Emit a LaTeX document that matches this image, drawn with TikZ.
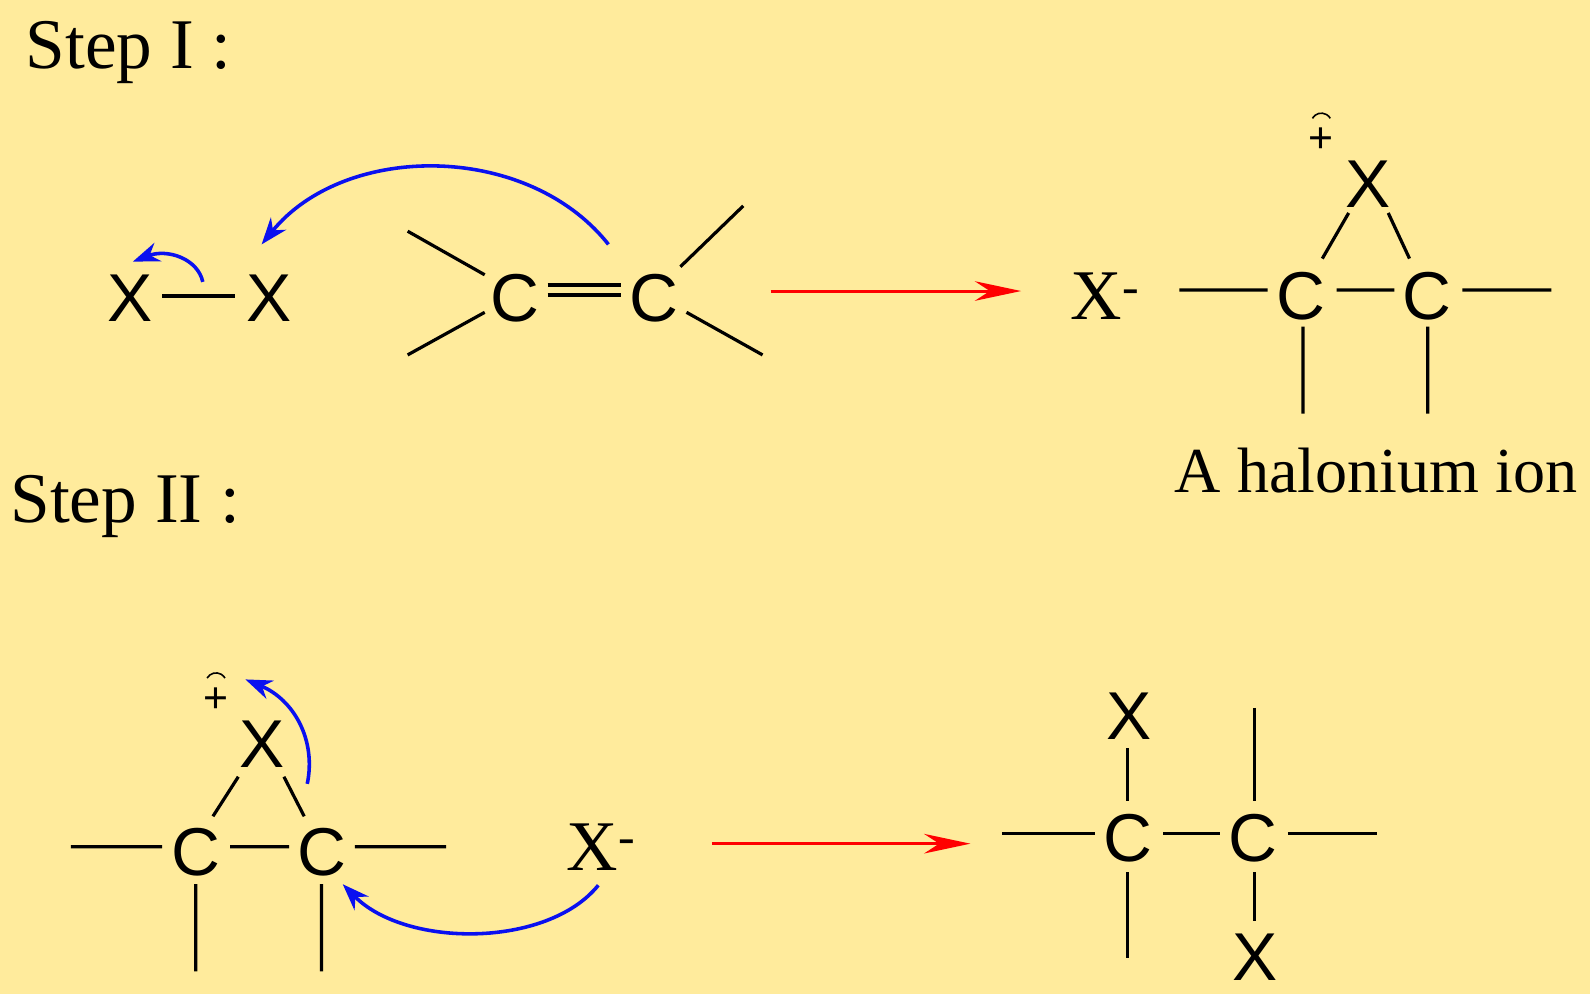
\documentclass[tikz,border=0pt]{standalone}
\usepackage{fontspec}
\setmainfont{Liberation Serif}
\newfontfamily\atomfont{Liberation Sans}
\usetikzlibrary{arrows.meta}
\definecolor{bg}{HTML}{FFEB9C}
\definecolor{ablue}{HTML}{0A10F0}
\tikzset{
 atom/.style={font=\atomfont\fontsize{38}{38}\selectfont,inner sep=0pt},
 lbl/.style={font=\fontsize{40}{40}\selectfont,inner sep=0pt},
 bond/.style={line width=1.8pt},
 push/.style={ablue,line width=2pt,-{Stealth[length=15pt,width=11pt]}},
 rxn/.style={red,line width=1.7pt,-{Stealth[length=26pt,width=11pt]}},
 chg/.style={font=\atomfont\fontsize{24}{24}\selectfont,inner sep=0pt}
}
\newcommand{\radplus}[2]{\node[chg] (#1) at #2 {+};
 \draw[line width=0.9pt] ([xshift=-5pt,yshift=5pt]#1.north) arc (150:30:5.8pt);}
\begin{document}
\begin{tikzpicture}[x=0.02cm,y=-0.02cm]
\fill[bg] (0,0) rectangle (1568,980);
\useasboundingbox (0,0) rectangle (1568,980);
% Step I
\node[lbl,anchor=west] (s1) at (25,52) {Step I :};
\node[atom] (x1) at (128,294) {X};
\node[atom] (x2) at (265,294) {X};
\draw[bond] (160,292) -- (232,292);
\node[atom] (c1) at (508,294) {C};
\node[atom] (c2) at (645,294) {C};
\draw[bond] (540,281) -- (612,281) (540,291) -- (612,291);
\draw[bond] (402,228) -- (478,271) (402,350) -- (478,308) (671,263) -- (733,203) (677,308) -- (752,350);
\coordinate (pi) at (600,241);
\draw[push] (pi) .. controls (520,140) and (340,140) .. (258,241);
\coordinate (xb) at (200,278);
\draw[push] (xb) .. controls (195,255) and (165,245) .. (131,258);
\draw[rxn] (760,287) -- (1007,287);
\node[lbl] (xm1) at (1090,292) {X\textsuperscript{-}};
\node[atom] (c3) at (1283,292) {C};
\node[atom] (c4) at (1407,292) {C};
\node[atom] (x3) at (1349,182) {X};
\radplus{p1}{(1303,138)}
\draw[bond] (1163,286) -- (1250,286) (1318,286) -- (1375,286) (1442,286) -- (1530,286)
 (1285,322) -- (1285,408) (1408,322) -- (1408,408) (1304,255) -- (1330,210) (1369,210) -- (1390,255);
\node[lbl,font=\fontsize{36}{36}\selectfont,anchor=east] (hal) at (1556,464) {A halonium ion};
% Step II
\node[lbl,anchor=west] (s2) at (10,499) {Step II :};
\node[atom] (c5) at (193,840) {C};
\node[atom] (c6) at (317,840) {C};
\node[atom] (x4) at (258,734) {X};
\radplus{p2}{(213,690)}
\draw[bond] (70,835) -- (160,835) (227,835) -- (285,835) (350,835) -- (440,835)
 (193,872) -- (193,958) (317,872) -- (317,958) (210,805) -- (235,766) (280,766) -- (300,805);
\coordinate (xb2) at (303,773);
\draw[push] (xb2) .. controls (312,730) and (290,690) .. (242,670);
\node[lbl] (xm2) at (593,835) {X\textsuperscript{-}};
\draw[push] (590,873) .. controls (540,935) and (400,935) .. (338,872);
\draw[rxn] (702,832) -- (957,832);
\node[atom] (c7) at (1112,827) {C};
\node[atom] (c8) at (1236,827) {C};
\node[atom] (x5) at (1113,706) {X};
\node[atom] (x6) at (1238,944) {X};
\draw[bond] (988,822) -- (1080,822) (1147,822) -- (1203,822) (1270,822) -- (1358,822)
 (1112,738) -- (1112,790) (1112,860) -- (1112,945) (1237,698) -- (1237,790) (1237,860) -- (1237,908);
\end{tikzpicture}
\end{document}
